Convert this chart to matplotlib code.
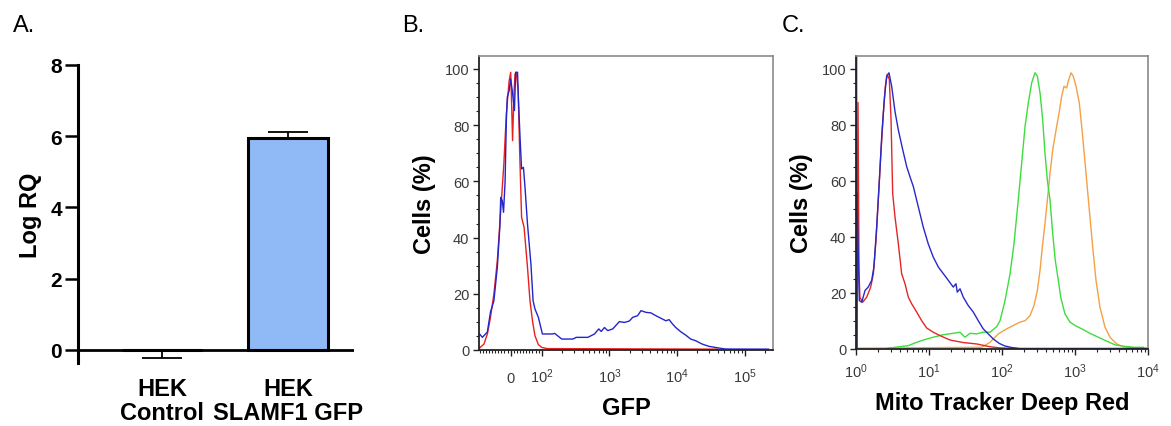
import matplotlib.pyplot as plt
from matplotlib.ticker import FixedLocator, MultipleLocator, NullFormatter

plt.rcParams['font.family'] = ['Liberation Sans', 'DejaVu Sans']
plt.rcParams['mathtext.fontset'] = 'custom'
plt.rcParams['mathtext.rm'] = 'Liberation Sans'
plt.rcParams['mathtext.it'] = 'Liberation Sans:italic'
plt.rcParams['mathtext.bf'] = 'Liberation Sans:bold'

# panel A: qPCR
GROUPS = ["HEK\nControl", "HEK\nSLAMF1 GFP"]
LOG_RQ = [0.0, 5.95]
ERR_LOW = [0.24, 0.0]
ERR_HIGH = [0.0, 0.18]
A_YTICKS = [0, 2, 4, 6, 8]

# panel B: GFP histograms (intensity, % of max)
B_RED = [(-100, 0.7), (-86, 2.1), (-75, 5.7), (-65, 11.6), (-54, 19.9), (-43, 31.8),
         (-32, 49.6), (-22, 66.2), (-14, 84.0), (-5, 95.8), (0, 98.8), (3, 87.5),
         (6, 74.5), (11, 92.3), (14, 98.2), (18, 98.8), (24, 92.3), (29, 69.8),
         (35, 47.2), (43, 43.7), (54, 29.4), (62, 17.5), (70, 10.4), (78, 5.1),
         (89, 1.9), (100, 0.9), (121, 0.5), (40000, 0.3)]
B_BLUE = [(-100, 5.7), (-91, 4.5), (-75, 6.4), (-65, 13.5), (-54, 17.5), (-43, 29.4),
          (-35, 43.7), (-32, 54.3), (-27, 53.1), (-23, 49.0), (-18, 60.0), (-14, 81.6),
          (-11, 89.9), (-5, 92.3), (0, 96.4), (5, 92.3), (12, 85.2), (16, 98.8),
          (22, 98.8), (25, 88.7), (30, 75.7), (35, 64.4), (41, 65.0), (46, 57.9),
          (54, 44.8), (65, 30.6), (72, 17.5), (78, 14.6), (89, 11.6), (102, 5.7),
          (144, 5.7), (155, 5.9), (197, 3.9), (288, 3.9), (324, 4.5), (480, 4.5),
          (601, 5.7), (696, 7.5), (755, 6.6), (844, 8.0), (944, 6.9), (1119, 7.5),
          (1403, 10.1), (1662, 9.8), (1968, 10.3), (2202, 11.6), (2609, 12.2),
          (2926, 14.0), (3466, 13.4), (4105, 13.2), (4863, 12.2), (5757, 11.3),
          (6823, 10.4), (7624, 10.8), (8531, 9.3), (9573, 8.0), (11330, 6.5),
          (13420, 5.3), (15890, 3.9), (18830, 3.3), (23550, 2.1), (29570, 1.3),
          (41500, 0.7), (52000, 0.35), (225000, 0.3)]
B_TICKS = [0, 100, 1000, 10000, 100000]
B_TICK_LABELS = ["0", r"$\mathregular{10^{2}}$", r"$\mathregular{10^{3}}$",
                 r"$\mathregular{10^{4}}$", r"$\mathregular{10^{5}}$"]

# panel C: Mito Tracker Deep Red histograms
C_ORANGE = [(1.0, 0.3), (52.7, 0.6), (68.4, 2.4), (89, 5.4), (116, 7.2), (143, 8.4),
            (176, 9.6), (207, 10.1), (242, 11.9), (274, 15.5), (305, 20.9), (332, 28.1),
            (357, 36.5), (388, 44.8), (418, 53.2), (455, 62.7), (495, 71.1), (550, 78.2),
            (610, 84.8), (657, 90.2), (707, 93.8), (769, 93.2), (809, 95.6), (881, 98.6),
            (947, 97.4), (1033, 93.8), (1146, 87.8), (1274, 75.9), (1415, 62.7),
            (1571, 49.6), (1747, 36.5), (1940, 24.5), (2198, 14.9), (2576, 7.8),
            (3015, 4.2), (3724, 1.8), (4592, 0.8), (6998, 0.4), (10000, 0.3)]
C_GREEN = [(2.74, 0.3), (5.21, 1.2), (6.78, 2.4), (8.34, 3.2), (11.4, 4.2), (15.7, 5.1),
           (21.5, 5.6), (26.6, 6.0), (31.1, 4.2), (36.4, 5.6), (45.0, 5.4), (55.3, 6.0),
           (68.4, 6.0), (84.7, 8.0), (94, 10.1), (110, 17.3), (129, 26.9), (146, 37.6),
           (167, 53.2), (186, 66.3), (207, 79.5), (229, 87.8), (255, 95.0), (283, 98.6),
           (305, 97.4), (332, 91.4), (361, 81.8), (388, 69.9), (418, 60.3), (455, 53.2),
           (495, 41.2), (537, 31.6), (591, 24.5), (637, 18.5), (729, 12.5), (855, 9.6),
           (1000, 8.4), (1236, 7.2), (1603, 5.6), (2084, 4.2), (2716, 2.8), (3532, 1.5),
           (4592, 1.0), (6295, 0.6), (8622, 0.6)]
C_RED = [(1.03, 0.0), (1.065, 88.0), (1.10, 28.0), (1.13, 18.5), (1.235, 16.7), (1.40, 18.5),
         (1.59, 22.1), (1.73, 26.9), (1.88, 38.8), (2.02, 53.2), (2.18, 68.7), (2.37, 84.2),
         (2.52, 93.8), (2.68, 98.0), (2.86, 96.2), (3.02, 81.8), (3.18, 55.6), (3.42, 47.2),
         (3.80, 37.6), (4.22, 26.9), (4.69, 23.3), (5.21, 18.5), (5.80, 16.1), (6.78, 13.2),
         (7.94, 10.1), (9.29, 7.5), (11.4, 6.0), (14.1, 4.8), (19.4, 3.2), (29.5, 2.3),
         (45.0, 1.8), (68.4, 0.8), (94, 0.4), (150, 0.2)]
C_BLUE = [(1.02, 110.0), (1.02, 0.0), (1.03, 55.6), (1.11, 17.3), (1.20, 16.7), (1.33, 20.9),
          (1.47, 22.1), (1.64, 24.5), (1.76, 29.3), (1.92, 43.6), (2.09, 60.3), (2.25, 75.9),
          (2.44, 89.0), (2.63, 97.4), (2.83, 98.6), (3.08, 93.8), (3.42, 84.8), (3.80, 78.2),
          (4.37, 71.1), (4.95, 65.1), (5.49, 61.5), (6.10, 58.0), (7.13, 50.8), (8.33, 43.6),
          (9.75, 37.6), (11.4, 32.9), (13.4, 29.3), (15.7, 26.9), (18.4, 24.5), (21.5, 22.1),
          (23.4, 23.3), (24.4, 20.3), (26.6, 21.5), (29.5, 18.5), (34.5, 15.5), (40.4, 13.2),
          (47.3, 10.1), (55.3, 7.2), (64.8, 5.4), (75.8, 3.6), (91.6, 2.0), (109, 1.1),
          (137, 0.5), (176, 0.2), (10000, 0.2)]
C_TICKS = [1, 10, 100, 1000, 10000]
C_TICK_LABELS = [r"$\mathregular{10^{%d}}$" % i for i in range(5)]

W, H = 1171, 427
fig = plt.figure(figsize=(W / 100, H / 100), dpi=100)

# ---------- A ----------
axA = fig.add_axes([78 / W, 1 - 364 / H, 276 / W, 298 / H])
xpos = list(range(len(GROUPS)))
axA.bar(xpos, LOG_RQ, width=0.64, color="#8fbaf5", edgecolor="black", linewidth=2.2, zorder=2)
axA.errorbar(xpos, LOG_RQ, yerr=[ERR_LOW, ERR_HIGH], fmt="none", ecolor="black",
             elinewidth=1.3, capsize=14.4, capthick=1.3, zorder=1)
axA.axhline(0, color="black", linewidth=2.0, zorder=3)
axA.set_xlim(-0.667, 1.524)
axA.set_ylim(-0.37, 8)
axA.set_yticks(A_YTICKS)
axA.set_xticks(xpos)
axA.set_xticklabels(GROUPS, fontsize=17, fontweight="bold", linespacing=1.05)
for s in ["top", "right", "bottom"]:
    axA.spines[s].set_visible(False)
axA.spines["left"].set_linewidth(2.2)
axA.tick_params(axis="y", length=9.5, width=1.8, pad=2, labelsize=15)
axA.tick_params(axis="x", length=0, pad=10)
for lbl in axA.get_yticklabels():
    lbl.set_fontweight("bold")
axA.set_ylabel("Log RQ", fontsize=17, fontweight="bold", labelpad=6)


def style_flow(ax):
    ax.set_ylim(0, 104.6)
    ax.yaxis.set_major_locator(MultipleLocator(20))
    ax.yaxis.set_minor_locator(MultipleLocator(5))
    ax.tick_params(axis="both", which="major", direction="out", length=4, width=1.0,
                   labelsize=10.5, labelcolor="#3a3a3a", color="#222222")
    ax.tick_params(axis="both", which="minor", direction="out", length=2.5, width=0.8,
                   color="#222222")
    ax.tick_params(axis="y", pad=3)
    for s in ["left", "bottom"]:
        ax.spines[s].set_color("#222222")
        ax.spines[s].set_linewidth(1.3)
    for s in ["top", "right"]:
        ax.spines[s].set_color("#8a8a8a")
        ax.spines[s].set_linewidth(1.2)
    ax.set_ylabel("Cells (%)", fontsize=17, fontweight="bold", labelpad=6)


# ---------- B ----------
axB = fig.add_axes([479 / W, 1 - 351 / H, 294 / W, 294 / H])
axB.set_xscale("symlog", linthresh=100, linscale=0.414)
axB.plot(*zip(*B_RED), color="#e82020", linewidth=1.0)
axB.plot(*zip(*B_BLUE), color="#2424cc", linewidth=1.0)
axB.set_xlim(-102, 2.62e5)
style_flow(axB)
axB.set_xticks(B_TICKS, B_TICK_LABELS, va="baseline")
b_minor = ([-100] + [-v for v in range(90, 0, -10)] + list(range(10, 100, 10))
           + [m * 10 ** e for e in (2, 3, 4) for m in range(2, 10)] + [200000])
axB.xaxis.set_minor_locator(FixedLocator(b_minor))
axB.xaxis.set_minor_formatter(NullFormatter())
axB.tick_params(axis="x", which="major", pad=19)
axB.set_xlabel("GFP", fontsize=17, fontweight="bold", labelpad=8)

# ---------- C ----------
axC = fig.add_axes([856 / W, 1 - 350 / H, 292 / W, 293 / H])
axC.set_xscale("log")
axC.plot(*zip(*C_ORANGE), color="#f4a045", linewidth=1.0)
axC.plot(*zip(*C_GREEN), color="#3fdc3f", linewidth=1.0)
axC.plot(*zip(*C_RED), color="#e02828", linewidth=1.0)
axC.plot(*zip(*C_BLUE), color="#2828c8", linewidth=1.0)
axC.set_xlim(1, 1e4)
style_flow(axC)
axC.set_xticks(C_TICKS, C_TICK_LABELS)
axC.xaxis.set_minor_formatter(NullFormatter())
axC.tick_params(axis="x", which="major", pad=5)
axC.set_xlabel("Mito Tracker Deep Red", fontsize=17, fontweight="bold", labelpad=8)

# panel letters
for x, letter in [(13, "A."), (402, "B."), (782, "C.")]:
    fig.text(x / W, 1 - 32 / H, letter, fontsize=17, va="baseline", ha="left")

fig.savefig("out.png", dpi=100)
